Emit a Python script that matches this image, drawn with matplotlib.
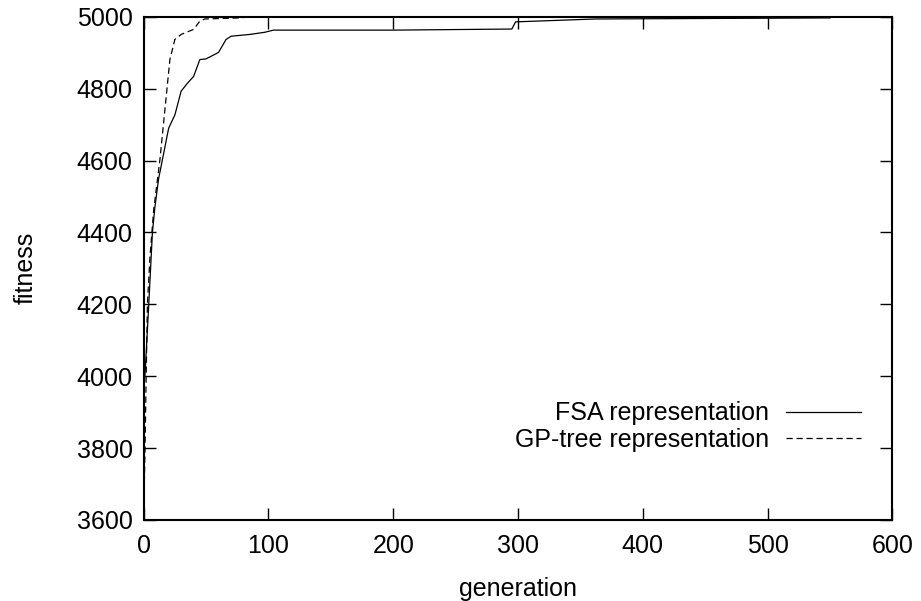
import numpy as np
import matplotlib
matplotlib.use("Agg")
import matplotlib.pyplot as plt

plt.rcParams['font.family'] = ['Liberation Sans', 'DejaVu Sans']
plt.rcParams['font.size'] = 18

# fitness of the best individual per generation
fsa_gen = [0, 1, 4, 7, 9, 12, 15, 20, 25, 30, 35, 40, 45, 50, 60, 66, 70,
           85, 97, 104, 200, 295, 298, 362, 550]
fsa_fit = [3960, 4000, 4195, 4400, 4470, 4550, 4602, 4690, 4727, 4793, 4815,
           4834, 4881, 4883, 4901, 4937, 4946, 4951, 4957, 4963, 4963, 4966,
           4986, 4994, 4997]

gp_gen = [0, 1, 2, 3, 5, 8, 13, 17, 21, 25, 30, 40, 45, 49, 77, 85]
gp_fit = [3620, 3780, 4000, 4200, 4330, 4462, 4602, 4741, 4881, 4937, 4951,
          4965, 4988, 4994, 4997, 5000]

xticks = [0, 100, 200, 300, 400, 500, 600]
yticks = [3600, 3800, 4000, 4200, 4400, 4600, 4800, 5000]

fig = plt.figure(figsize=(9.21, 6.01), dpi=100)
ax = fig.add_axes([0.156, 0.135, 0.813, 0.837])

ax.plot(fsa_gen, fsa_fit, color='black', lw=0.9, label='FSA representation')
ax.plot(gp_gen, gp_fit, color='black', lw=0.9, dashes=(5, 3),
        label='GP-tree representation')

ax.set_xlim(0, 600)
ax.set_ylim(3600, 5000)
ax.set_xticks(xticks)
ax.set_yticks(yticks)
ax.tick_params(direction='in', length=8.6, width=1, top=True, right=True,
               colors='black')
ax.tick_params(axis='x', pad=10)
ax.tick_params(axis='y', pad=8)
for s in ax.spines.values():
    s.set_linewidth(1.5)

ax.set_xlabel('generation', labelpad=14)
ax.set_ylabel('fitness', labelpad=28)

ax.legend(loc='lower right', bbox_to_anchor=(0.958, 0.135), frameon=False,
          markerfirst=False, handlelength=3.0, handletextpad=0.67,
          labelspacing=0.1, borderpad=0, borderaxespad=0)

fig.savefig('out.png', dpi=100)
